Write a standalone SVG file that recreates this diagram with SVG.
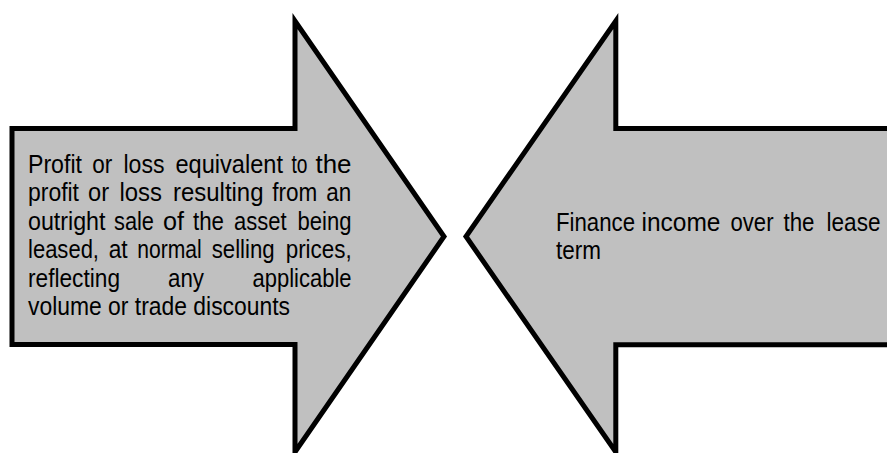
<svg xmlns="http://www.w3.org/2000/svg" width="887" height="453" viewBox="0 0 887 453">
<style>
.arrow{fill:#c0c0c0;stroke:#000;stroke-width:5;stroke-linejoin:miter;stroke-miterlimit:10}
.t{font-family:"Liberation Sans",Arial,sans-serif;font-size:26px;fill:#000}
</style>
<rect width="887" height="453" fill="#fff"/>
<g id="connectors"/>
<g id="left-arrow">
<path class="arrow" d="M12,128.5 H295 V21 L444,236.5 L295,452 V344.5 H12 Z"/>
<g transform="scale(0.85 1)">
<text class="t" y="172.7"><tspan x="32.94" textLength="63.53" lengthAdjust="spacingAndGlyphs">Profit</tspan><tspan x="108.47" textLength="23.53" lengthAdjust="spacingAndGlyphs">or</tspan><tspan x="145.29" textLength="48.24" lengthAdjust="spacingAndGlyphs">loss</tspan><tspan x="206.47" textLength="126.47" lengthAdjust="spacingAndGlyphs">equivalent</tspan><tspan x="342.94" textLength="18.82" lengthAdjust="spacingAndGlyphs">to</tspan><tspan x="371.18" textLength="42.35" lengthAdjust="spacingAndGlyphs">the</tspan></text>
<text class="t" y="201.2"><tspan x="32.94" textLength="60" lengthAdjust="spacingAndGlyphs">profit</tspan><tspan x="103.53" textLength="24.71" lengthAdjust="spacingAndGlyphs">or</tspan><tspan x="140.59" textLength="50" lengthAdjust="spacingAndGlyphs">loss</tspan><tspan x="203.53" textLength="106.47" lengthAdjust="spacingAndGlyphs">resulting</tspan><tspan x="320.35" textLength="52.94" lengthAdjust="spacingAndGlyphs">from</tspan><tspan x="383.88" textLength="29.41" lengthAdjust="spacingAndGlyphs">an</tspan></text>
<text class="t" y="229.7"><tspan x="32.94" textLength="91.18" lengthAdjust="spacingAndGlyphs">outright</tspan><tspan x="134.12" textLength="47.06" lengthAdjust="spacingAndGlyphs">sale</tspan><tspan x="191.76" textLength="24.71" lengthAdjust="spacingAndGlyphs">of</tspan><tspan x="227.06" textLength="36.47" lengthAdjust="spacingAndGlyphs">the</tspan><tspan x="275.29" textLength="61.76" lengthAdjust="spacingAndGlyphs">asset</tspan><tspan x="350" textLength="63.53" lengthAdjust="spacingAndGlyphs">being</tspan></text>
<text class="t" y="258.2"><tspan x="32.94" textLength="83.53" lengthAdjust="spacingAndGlyphs">leased,</tspan><tspan x="127.88" textLength="22.35" lengthAdjust="spacingAndGlyphs">at</tspan><tspan x="161.41" textLength="75.88" lengthAdjust="spacingAndGlyphs">normal</tspan><tspan x="249.06" textLength="74.12" lengthAdjust="spacingAndGlyphs">selling</tspan><tspan x="336.12" textLength="77.65" lengthAdjust="spacingAndGlyphs">prices,</tspan></text>
<text class="t" y="286.7"><tspan x="32.94" textLength="108.24" lengthAdjust="spacingAndGlyphs">reflecting</tspan><tspan x="197.65" textLength="42.35" lengthAdjust="spacingAndGlyphs">any</tspan><tspan x="297.06" textLength="116.47" lengthAdjust="spacingAndGlyphs">applicable</tspan></text>
<text class="t" x="32.94" y="315.2" textLength="308.24" lengthAdjust="spacingAndGlyphs">volume or trade discounts</text>
</g>
</g>
<g id="right-arrow">
<path class="arrow" d="M900,128.5 H615.8 V21 L466,236.5 L615.8,452 V344.8 H900 Z"/>
<g transform="scale(0.85 1)">
<text class="t" y="230.7"><tspan x="654.12" textLength="92.94" lengthAdjust="spacingAndGlyphs">Finance</tspan><tspan x="754.71" textLength="92.94" lengthAdjust="spacingAndGlyphs">income</tspan><tspan x="859.41" textLength="50.59" lengthAdjust="spacingAndGlyphs">over</tspan><tspan x="921.76" textLength="36.47" lengthAdjust="spacingAndGlyphs">the</tspan><tspan x="972.35" textLength="63.53" lengthAdjust="spacingAndGlyphs">lease</tspan></text>
<text class="t" x="654.12" y="259.2" textLength="52.94" lengthAdjust="spacingAndGlyphs">term</text>
</g>
</g>
</svg>
